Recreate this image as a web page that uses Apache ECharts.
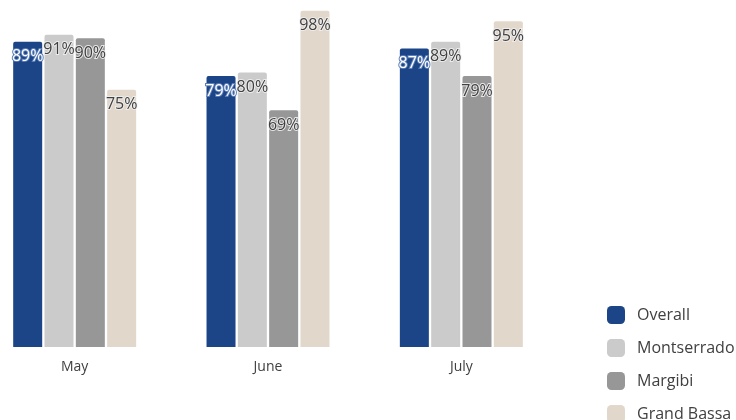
<!DOCTYPE html>
<html><head><meta charset="utf-8">
<script src="https://cdn.jsdelivr.net/npm/echarts@6/dist/echarts.min.js"></script>
<style>html,body{margin:0;padding:0;background:#fff;overflow:hidden}#c{width:760px;height:460px;margin-left:-22px}</style>
</head><body><div id="c"></div>
<script>
const categories = ['May', 'June', 'July'];
const seriesNames = ['Overall', 'Montserrado', 'Margibi', 'Grand Bassa'];
const overall = [89, 79, 87];
const montserrado = [91, 80, 89];
const margibi = [90, 69, 79];
const grandBassa = [75, 98, 95];
const colors = ['#1c4587', '#cbcbcb', '#979797', '#e1d7cb'];
const values = [overall, montserrado, margibi, grandBassa];

const chart = echarts.init(document.getElementById('c'));
const font = '"Open Sans", sans-serif';
chart.setOption({
  animation: false,
  grid: { left: 0, right: 180, top: 4, bottom: 113 },
  xAxis: {
    type: 'category', data: categories,
    axisLine: { show: false }, axisTick: { show: false },
    axisLabel: { color: '#404040', fontSize: 14, fontFamily: font, margin: 13 }
  },
  yAxis: { type: 'value', min: 0, max: 100, show: false, splitLine: { show: false } },
  legend: {
    orient: 'vertical', left: 624, top: 301,
    itemWidth: 18, itemHeight: 18, itemGap: 15,
    icon: 'roundRect',
    textStyle: { color: '#404040', fontSize: 16, fontFamily: font, padding: [0, 0, 0, 7] },
    data: seriesNames
  },
  series: seriesNames.map((n, i) => ({
    name: n, type: 'bar', data: values[i],
    barWidth: 29, barGap: '8%',
    itemStyle: { color: colors[i], borderRadius: [2, 2, 0, 0] },
    label: {
      show: true, position: 'insideTop', distance: 7,
      formatter: '{c}%', fontSize: 16, fontFamily: font,
      color: i === 0 ? '#ffffff' : '#404040',
      textBorderColor: i === 0 ? '#5d7fb8' : 'rgba(240,240,240,0.9)',
      textBorderWidth: 2
    }
  }))
});
</script></body></html>
